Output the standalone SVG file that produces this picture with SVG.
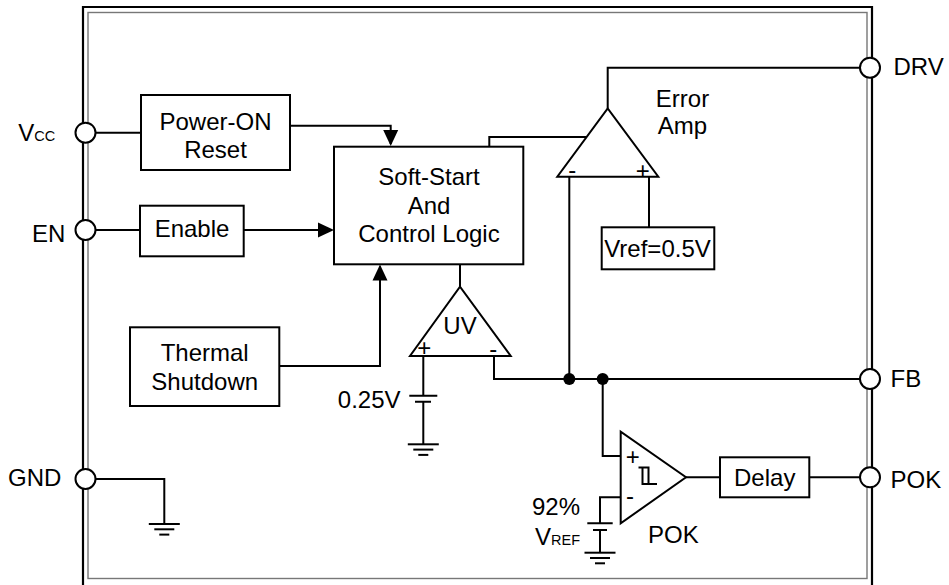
<svg xmlns="http://www.w3.org/2000/svg" width="949" height="585" viewBox="0 0 949 585">
<style>
.t{font-family:"Liberation Sans",Arial,sans-serif;font-size:24px;fill:#000}
.m{text-anchor:middle}
.s{font-size:14.5px}
.sg{font-family:"Liberation Sans",Arial,sans-serif;font-size:24px;fill:#000;text-anchor:middle}
.w{fill:none;stroke:#000;stroke-width:2}
.box{fill:#fff;stroke:#000;stroke-width:2}
.pin{fill:#fff;stroke:#000;stroke-width:2}
.dot{fill:#000}
</style>
<defs>
<marker id="arr" viewBox="0 0 16 16" refX="14" refY="8" markerWidth="16" markerHeight="16" orient="auto" markerUnits="userSpaceOnUse">
<path d="M0,0.5 L16,8 L0,15.5 z" fill="#000"/>
</marker>
<g id="gnd" class="w">
<line x1="-15.5" y1="0" x2="15.5" y2="0"/>
<line x1="-10" y1="5.3" x2="10" y2="5.3"/>
<line x1="-5" y1="10.6" x2="5" y2="10.6"/>
</g>
</defs>
<rect width="949" height="585" fill="#fff"/>
<g id="border">
<path d="M83,585 V7 H872 V585" fill="none" stroke="#000" stroke-width="2.2"/>
<rect x="88" y="12.5" width="779" height="566" fill="none" stroke="#777" stroke-width="1.4"/>
</g>
<g id="connectors">
<path class="w" d="M85.5,132.7 H141"/>
<path class="w" d="M290,125.7 H390.7 V144" marker-end="url(#arr)"/>
<path class="w" d="M85.5,230 H140"/>
<path class="w" d="M243.7,230 H332" marker-end="url(#arr)"/>
<path class="w" d="M279.3,366 H380 V266.5" marker-end="url(#arr)"/>
<path class="w" d="M489.3,146.7 V137 H587"/>
<path class="w" d="M607.7,108.5 V67.7 H870"/>
<path class="w" d="M569.3,177 V379"/>
<path class="w" d="M649,177 V227.3"/>
<path class="w" d="M460,264.3 V286.7"/>
<path class="w" d="M423.3,356 V395.7 M409.3,395.7 H437.3 M415,401.7 H431 M423.3,401.7 V444.3"/>
<use href="#gnd" x="423.3" y="444.3"/>
<path class="w" d="M494,356 V379 H870"/>
<path class="w" d="M602.7,379 V456 H620.7"/>
<path class="w" d="M620.7,497.3 H600 V523.3 M587.3,523.3 H612.7 M593,530 H607 M600,530 V552.7"/>
<use href="#gnd" x="600" y="552.7"/>
<path class="w" d="M686,477.3 H720"/>
<path class="w" d="M809.3,477.3 H870"/>
<path class="w" d="M85.5,479 H164.3 V524"/>
<use href="#gnd" x="164.3" y="524"/>
<circle class="dot" cx="569.3" cy="379" r="6"/>
<circle class="dot" cx="602.7" cy="379" r="6"/>
</g>
<g id="pin-vcc">
<circle class="pin" cx="85.5" cy="132.7" r="10"/>
<text class="t" x="18.3" y="141">V<tspan class="s">CC</tspan></text>
</g>
<g id="pin-en">
<circle class="pin" cx="85.5" cy="230" r="10"/>
<text class="t" x="32" y="241.7">EN</text>
</g>
<g id="pin-gnd">
<circle class="pin" cx="85.5" cy="479" r="10"/>
<text class="t" x="8" y="485.7">GND</text>
</g>
<g id="pin-drv">
<circle class="pin" cx="870" cy="67.7" r="10"/>
<text class="t" x="893.5" y="75">DRV</text>
</g>
<g id="pin-fb">
<circle class="pin" cx="870" cy="379" r="10"/>
<text class="t" x="890.5" y="386.7">FB</text>
</g>
<g id="pin-pok">
<circle class="pin" cx="870" cy="477.3" r="10"/>
<text class="t" x="890.5" y="488.3">POK</text>
</g>
<g id="power-on-reset">
<rect class="box" x="141" y="95" width="149" height="75"/>
<text class="t m" x="215.5" y="130">Power-ON</text>
<text class="t m" x="215.5" y="158.3">Reset</text>
</g>
<g id="enable">
<rect class="box" x="140" y="205.7" width="103.7" height="50.6"/>
<text class="t m" x="192" y="236.7">Enable</text>
</g>
<g id="thermal-shutdown">
<rect class="box" x="130" y="327.3" width="149.3" height="78.7"/>
<text class="t m" x="204.7" y="361">Thermal</text>
<text class="t m" x="204.7" y="390">Shutdown</text>
</g>
<g id="soft-start">
<rect class="box" x="334" y="146.7" width="189.3" height="117.6"/>
<text class="t m" x="429" y="185">Soft-Start</text>
<text class="t m" x="429" y="214">And</text>
<text class="t m" x="429" y="241.7">Control Logic</text>
</g>
<g id="error-amp">
<path class="box" d="M557.3,176.7 L658.3,176.7 L607.7,108.5 z"/>
<text class="sg" x="572.3" y="177.5">-</text>
<text class="sg" x="642.7" y="178.5">+</text>
<text class="t m" x="682.5" y="106.7">Error</text>
<text class="t m" x="682.5" y="134.3">Amp</text>
</g>
<g id="vref">
<rect class="box" x="601.7" y="227.3" width="112.6" height="42"/>
<text class="t m" x="657.5" y="256.7">Vref=0.5V</text>
</g>
<g id="uv">
<path class="box" d="M410,356 L510.7,356 L460,286.7 z"/>
<text class="t m" x="460" y="334">UV</text>
<text class="sg" x="424.3" y="355.5">+</text>
<text class="sg" x="493.3" y="357">-</text>
<text class="t" x="400.5" y="408.3" text-anchor="end">0.25V</text>
</g>
<g id="pok-comparator">
<path class="box" d="M620.7,431.7 L620.7,523.3 L686,477.3 z"/>
<text class="sg" x="632.7" y="464.5">+</text>
<text class="sg" x="630" y="504">-</text>
<path class="w" stroke-width="1.7" d="M638.5,467.5 H648.5 V484 M642.5,467.5 V484 H657"/>
<text class="t" x="648" y="542.7">POK</text>
<text class="t" x="580" y="515" text-anchor="end">92%</text>
<text class="t" x="580" y="545" text-anchor="end">V<tspan class="s">REF</tspan></text>
</g>
<g id="delay">
<rect class="box" x="720" y="457.3" width="89.3" height="40"/>
<text class="t m" x="764.7" y="485.7">Delay</text>
</g>
</svg>
